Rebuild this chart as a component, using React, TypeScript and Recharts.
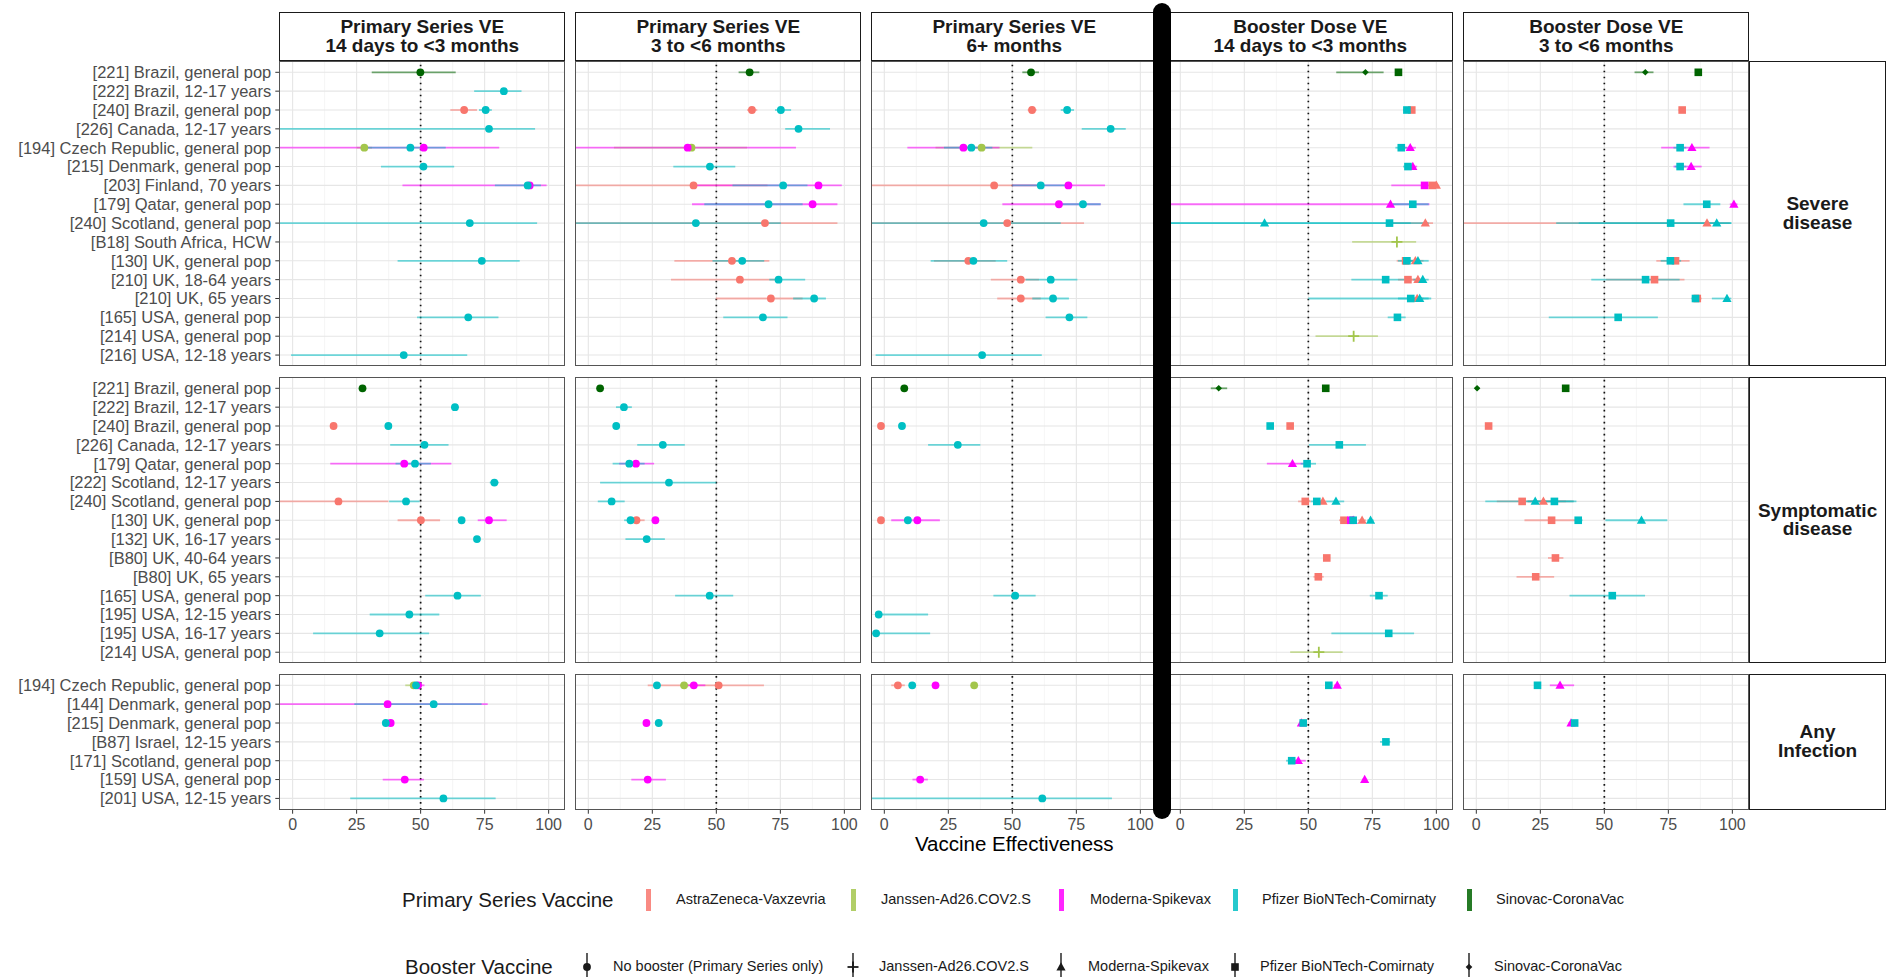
import React from "react";
import {
  CartesianGrid,
  ErrorBar,
  ReferenceLine,
  Scatter,
  ScatterChart,
  XAxis,
  YAxis,
} from "recharts";

// facet labels
const periodTitles = [
  "Primary Series VE",
  "Primary Series VE",
  "Primary Series VE",
  "Booster Dose VE",
  "Booster Dose VE",
];
const periodWindows = [
  "14 days to <3 months",
  "3 to <6 months",
  "6+ months",
  "14 days to <3 months",
  "3 to <6 months",
];
const outcomeTitles = [
  ["Severe", "disease"],
  ["Symptomatic", "disease"],
  ["Any", "Infection"],
];

const severeStudies = [
  "[221] Brazil, general pop",
  "[222] Brazil, 12-17 years",
  "[240] Brazil, general pop",
  "[226] Canada, 12-17 years",
  "[194] Czech Republic, general pop",
  "[215] Denmark, general pop",
  "[203] Finland, 70 years",
  "[179] Qatar, general pop",
  "[240] Scotland, general pop",
  "[B18] South Africa, HCW",
  "[130] UK, general pop",
  "[210] UK, 18-64 years",
  "[210] UK, 65 years",
  "[165] USA, general pop",
  "[214] USA, general pop",
  "[216] USA, 12-18 years",
];
const symptomaticStudies = [
  "[221] Brazil, general pop",
  "[222] Brazil, 12-17 years",
  "[240] Brazil, general pop",
  "[226] Canada, 12-17 years",
  "[179] Qatar, general pop",
  "[222] Scotland, 12-17 years",
  "[240] Scotland, general pop",
  "[130] UK, general pop",
  "[132] UK, 16-17  years",
  "[B80] UK, 40-64 years",
  "[B80] UK, 65 years",
  "[165] USA, general pop",
  "[195] USA, 12-15 years",
  "[195] USA, 16-17 years",
  "[214] USA, general pop",
];
const infectionStudies = [
  "[194] Czech Republic, general pop",
  "[144] Denmark, general pop",
  "[215] Denmark, general pop",
  "[B87] Israel, 12-15 years",
  "[171] Scotland, general pop",
  "[159] USA, general pop",
  "[201] USA, 12-15 years",
];

const xTicks = [0, 25, 50, 75, 100];
const xMinorTicks = [12.5, 37.5, 62.5, 87.5];
const xDomain: [number, number] = [-5.2, 106.5];

// A = AstraZeneca, J = Janssen, M = Moderna, P = Pfizer, S = Sinovac, "-" = no booster
const primaryCodes = ["A", "J", "M", "P", "S"];
const primaryLabels = [
  "AstraZeneca-Vaxzevria",
  "Janssen-Ad26.COV2.S",
  "Moderna-Spikevax",
  "Pfizer BioNTech-Comirnaty",
  "Sinovac-CoronaVac",
];
const boosterCodes = ["-", "J", "M", "P", "S"];
const boosterLabels = [
  "No booster (Primary Series only)",
  "Janssen-Ad26.COV2.S",
  "Moderna-Spikevax",
  "Pfizer BioNTech-Comirnaty",
  "Sinovac-CoronaVac",
];

// [period, study row, primary, booster, VE, lower, upper]
type Estimate = [number, number, string, string, number, number, number];

const severeEstimates: Estimate[] = [
  [0, 0, "S", "-", 49.9, 30.9, 63.7],
  [0, 1, "P", "-", 82.5, 70.9, 89.4],
  [0, 2, "A", "-", 67.0, 61.6, 72.0],
  [0, 2, "P", "-", 75.4, 72.8, 77.8],
  [0, 3, "P", "-", 76.7, -10, 94.7],
  [0, 4, "J", "-", 28.0, 25, 31],
  [0, 4, "P", "-", 46.0, 28.6, 59.8],
  [0, 4, "M", "-", 51.2, -10, 80.7],
  [0, 5, "P", "-", 51.1, 34.5, 63.1],
  [0, 6, "P", "-", 91.8, 79, 97],
  [0, 6, "M", "-", 92.6, 42.9, 99.2],
  [0, 8, "P", "-", 69.2, -10, 95.5],
  [0, 10, "P", "-", 73.9, 41.0, 88.7],
  [0, 13, "P", "-", 68.6, 48.6, 80.4],
  [0, 15, "P", "-", 43.4, -0.6, 68.2],

  [1, 0, "S", "-", 63.0, 58.7, 66.8],
  [1, 2, "A", "-", 63.9, 62, 66],
  [1, 2, "P", "-", 75.2, 72.9, 79.2],
  [1, 3, "P", "-", 82.1, 76.9, 94.4],
  [1, 4, "M", "-", 38.8, -10, 81.1],
  [1, 4, "J", "-", 40.3, 10, 62],
  [1, 5, "P", "-", 47.5, 33.2, 57.4],
  [1, 6, "A", "-", 41.1, -10, 70],
  [1, 6, "P", "-", 76.1, 56.3, 85.6],
  [1, 6, "M", "-", 89.9, 40, 99.0],
  [1, 7, "P", "-", 70.4, 45.3, 83.7],
  [1, 7, "M", "-", 87.6, 40.5, 97.3],
  [1, 8, "P", "-", 42.0, -10, 75.2],
  [1, 8, "A", "-", 69.0, -10, 97.3],
  [1, 10, "A", "-", 56.1, 33.6, 70.7],
  [1, 10, "P", "-", 60.1, 48.5, 68.7],
  [1, 11, "A", "-", 59.2, 32.3, 74.3],
  [1, 11, "P", "-", 74.3, 70.7, 84.7],
  [1, 12, "A", "-", 71.3, 49.8, 83.7],
  [1, 12, "P", "-", 88.2, 80.0, 92.8],
  [1, 13, "P", "-", 68.2, 52.7, 77.8],

  [2, 0, "S", "-", 57.3, 53.9, 60.4],
  [2, 2, "A", "-", 57.7, 56, 59.5],
  [2, 2, "P", "-", 71.4, 68.9, 74.1],
  [2, 3, "P", "-", 88.4, 77.1, 94.3],
  [2, 4, "M", "-", 30.9, 9.0, 45],
  [2, 4, "P", "-", 34.0, 23.3, 42.2],
  [2, 4, "J", "-", 38.0, 20, 57.8],
  [2, 6, "A", "-", 42.9, -10, 60],
  [2, 6, "P", "-", 61.1, 50, 72],
  [2, 6, "M", "-", 71.9, 50, 86.2],
  [2, 7, "M", "-", 68.2, 46.1, 84.5],
  [2, 7, "P", "-", 77.6, 68, 84.5],
  [2, 8, "P", "-", 38.8, -10, 68.9],
  [2, 8, "A", "-", 48.0, -10, 78.0],
  [2, 10, "A", "-", 32.8, 19.4, 43.5],
  [2, 10, "P", "-", 34.8, 18.1, 48.0],
  [2, 11, "A", "-", 53.3, 41.6, 60.4],
  [2, 11, "P", "-", 65.0, 55.2, 75.4],
  [2, 12, "A", "-", 53.3, 44.1, 61.1],
  [2, 12, "P", "-", 65.9, 57.8, 72.1],
  [2, 13, "P", "-", 72.3, 63.0, 79.3],
  [2, 15, "P", "-", 38.2, -3.4, 61.5],

  [3, 0, "S", "S", 72.3, 60.9, 79.4],
  [3, 0, "S", "P", 85.2, 84, 86.5],
  [3, 2, "P", "P", 88.5, 87, 90],
  [3, 2, "A", "P", 90.4, 89, 91.5],
  [3, 4, "P", "P", 86.3, 84, 88.5],
  [3, 4, "M", "M", 89.8, 87.5, 92],
  [3, 5, "P", "P", 88.9, 87, 90.5],
  [3, 5, "M", "M", 90.8, 89, 92.5],
  [3, 6, "M", "P", 95.4, 82.4, 99],
  [3, 6, "A", "P", 98.4, 97, 99.5],
  [3, 6, "A", "M", 100, 99, 101],
  [3, 7, "M", "M", 82.1, -10, 97.3],
  [3, 7, "P", "P", 90.8, 83, 97],
  [3, 8, "P", "M", 32.9, -10, 90],
  [3, 8, "P", "P", 81.7, -10, 97],
  [3, 8, "A", "M", 95.7, 82.3, 98.7],
  [3, 9, "J", "J", 84.6, 67.1, 92.1],
  [3, 10, "A", "P", 88.0, 84.5, 91],
  [3, 10, "P", "P", 88.5, 85, 92],
  [3, 10, "A", "M", 91.8, 88, 95],
  [3, 10, "P", "M", 92.8, 89, 97],
  [3, 11, "P", "P", 80.2, 66.8, 88],
  [3, 11, "A", "P", 88.9, 85, 92],
  [3, 11, "A", "M", 92.8, 90, 95],
  [3, 11, "P", "M", 94.7, 91, 97],
  [3, 12, "P", "P", 90, 50, 97],
  [3, 12, "A", "M", 92.5, 90, 95],
  [3, 12, "P", "M", 93.5, 85, 98],
  [3, 13, "P", "P", 84.8, 81, 88],
  [3, 14, "J", "J", 67.7, 52.8, 77.2],

  [4, 0, "S", "S", 66.0, 61.8, 69.2],
  [4, 0, "S", "P", 86.7, 85.5, 88],
  [4, 2, "A", "P", 80.4, 79, 81.5],
  [4, 4, "P", "P", 79.6, 77, 82],
  [4, 4, "M", "M", 84.2, 72.2, 91.1],
  [4, 5, "P", "P", 79.6, 77.5, 82],
  [4, 5, "M", "M", 83.9, 77, 88],
  [4, 7, "P", "P", 90.0, 80.9, 95.3],
  [4, 7, "M", "M", 100.6, 99, 102],
  [4, 8, "P", "P", 75.9, 31.2, 99.6],
  [4, 8, "A", "M", 90.1, -10, 99],
  [4, 8, "P", "M", 93.9, 40, 99.6],
  [4, 10, "P", "P", 75.8, 72, 80],
  [4, 10, "A", "P", 77.8, 70.3, 83.3],
  [4, 11, "P", "P", 66.1, 44.9, 79.4],
  [4, 11, "A", "P", 69.6, 50.7, 81.3],
  [4, 12, "P", "P", 85.6, 84, 87.5],
  [4, 12, "A", "P", 86.3, 85, 88],
  [4, 12, "P", "M", 97.9, 92, 99.6],
  [4, 13, "P", "P", 55.4, 28.3, 70.9],
];

const symptomaticEstimates: Estimate[] = [
  [0, 0, "S", "-", 27.3, 26, 28.5],
  [0, 1, "P", "-", 63.4, 62, 65],
  [0, 2, "A", "-", 16.0, 15, 17],
  [0, 2, "P", "-", 37.4, 36, 38.5],
  [0, 3, "P", "-", 51.5, 38.1, 60.9],
  [0, 4, "M", "-", 43.6, 14.7, 62.0],
  [0, 4, "P", "-", 47.8, 40.2, 54],
  [0, 5, "P", "-", 78.8, 77, 80.5],
  [0, 6, "A", "-", 17.9, -10, 37.4],
  [0, 6, "P", "-", 44.3, 37.7, 49.6],
  [0, 7, "A", "-", 50.1, 41.0, 57.6],
  [0, 7, "P", "-", 66.0, 65, 67],
  [0, 7, "M", "-", 76.7, 72.3, 83.6],
  [0, 8, "P", "-", 72.0, 71, 73],
  [0, 11, "P", "-", 64.4, 51.8, 73.5],
  [0, 12, "P", "-", 45.6, 30.1, 57.3],
  [0, 13, "P", "-", 34.0, 8.0, 53.3],

  [1, 0, "S", "-", 4.6, 4, 5.2],
  [1, 1, "P", "-", 13.9, 10.8, 17.0],
  [1, 2, "P", "-", 10.9, 10, 12],
  [1, 3, "P", "-", 29.1, 19.1, 37.7],
  [1, 4, "P", "-", 16.0, 9.5, 22],
  [1, 4, "M", "-", 18.6, 12, 25.7],
  [1, 5, "P", "-", 31.5, 4.6, 50],
  [1, 6, "P", "-", 9.1, 3.7, 14.2],
  [1, 7, "P", "-", 16.5, 14, 19],
  [1, 7, "A", "-", 18.8, 16, 22],
  [1, 7, "M", "-", 26.2, 25, 27.5],
  [1, 8, "P", "-", 22.8, 14.5, 29.9],
  [1, 11, "P", "-", 47.4, 33.9, 56.6],

  [2, 0, "S", "-", 7.8, 7, 8.6],
  [2, 2, "A", "-", -1.3, -2, -0.5],
  [2, 2, "P", "-", 6.9, 6, 7.8],
  [2, 3, "P", "-", 28.7, 17.1, 37.5],
  [2, 7, "A", "-", -1.3, -2, -0.5],
  [2, 7, "P", "-", 9.2, 8, 10.5],
  [2, 7, "M", "-", 12.9, 2.7, 21.7],
  [2, 11, "P", "-", 51.1, 42.6, 59.1],
  [2, 12, "P", "-", -2.2, -3, 17.1],
  [2, 13, "P", "-", -3.2, -4, 17.9],

  [3, 0, "S", "S", 15.0, 11.9, 18.3],
  [3, 0, "S", "P", 56.8, 56, 57.6],
  [3, 2, "P", "P", 35.1, 34, 36],
  [3, 2, "A", "P", 42.9, 42, 44],
  [3, 3, "P", "P", 62.1, 50.2, 72.5],
  [3, 4, "M", "M", 43.8, 33.8, 50.2],
  [3, 4, "P", "P", 49.5, 47, 53],
  [3, 6, "A", "P", 48.8, 46, 51],
  [3, 6, "P", "P", 53.3, 51, 55],
  [3, 6, "A", "M", 55.7, 54, 57],
  [3, 6, "P", "M", 60.8, 57, 64],
  [3, 7, "A", "P", 63.9, 62, 65.5],
  [3, 7, "M", "P", 66.6, 65, 68],
  [3, 7, "P", "P", 67.5, 66, 69],
  [3, 7, "M", "M", 67.5, 66, 69],
  [3, 7, "A", "M", 71.0, 69.5, 72.5],
  [3, 7, "P", "M", 74.3, 73, 75.5],
  [3, 9, "A", "P", 57.2, 56, 58.5],
  [3, 10, "A", "P", 53.9, 52, 56],
  [3, 11, "P", "P", 77.6, 74, 81],
  [3, 13, "P", "P", 81.4, 59, 91.3],
  [3, 14, "J", "J", 54.1, 42.9, 63.4],

  [4, 0, "S", "S", 0.3, -0.5, 1.2],
  [4, 0, "S", "P", 34.9, 34, 35.8],
  [4, 2, "A", "P", 4.8, 3.8, 5.8],
  [4, 6, "A", "P", 17.9, 8, 38],
  [4, 6, "P", "M", 23.0, 3.5, 39.1],
  [4, 6, "A", "M", 26.2, 20, 35],
  [4, 6, "P", "P", 30.5, 20, 38],
  [4, 7, "A", "P", 29.4, 18.8, 40.4],
  [4, 7, "P", "P", 39.8, 38.5, 41.5],
  [4, 7, "P", "M", 64.5, 50.4, 74.6],
  [4, 9, "A", "P", 30.9, 28, 34],
  [4, 10, "A", "P", 23.2, 15.7, 30.4],
  [4, 11, "P", "P", 53.1, 36.4, 65.9],
];

const infectionEstimates: Estimate[] = [
  [0, 0, "J", "-", 47.3, 44, 50],
  [0, 0, "P", "-", 48.2, 46, 50.5],
  [0, 0, "M", "-", 49.0, 46.5, 51.5],
  [0, 1, "M", "-", 37.1, -10, 76.2],
  [0, 1, "P", "-", 55.1, 24.1, 73.8],
  [0, 2, "P", "-", 36.4, 35.5, 37.5],
  [0, 2, "M", "-", 38.3, 37, 39.5],
  [0, 5, "M", "-", 43.8, 35.2, 51.3],
  [0, 6, "P", "-", 58.9, 22.5, 79.3],

  [1, 0, "P", "-", 26.8, 26, 27.6],
  [1, 0, "J", "-", 37.4, 36, 39],
  [1, 0, "M", "-", 41.2, 37.4, 45.7],
  [1, 0, "A", "-", 50.9, 23.2, 68.6],
  [1, 2, "M", "-", 22.7, 22, 23.5],
  [1, 2, "P", "-", 27.5, 26.7, 28.3],
  [1, 5, "M", "-", 23.2, 16.8, 30.3],

  [2, 0, "A", "-", 5.3, 2.7, 8.0],
  [2, 0, "P", "-", 10.9, 10, 12],
  [2, 0, "M", "-", 20.0, 19, 21],
  [2, 0, "J", "-", 35.1, 34, 36.2],
  [2, 5, "M", "-", 14.0, 11, 17],
  [2, 6, "P", "-", 61.7, -10, 88.9],

  [3, 0, "P", "P", 58.0, 57, 59],
  [3, 0, "M", "M", 61.3, 60, 62.5],
  [3, 2, "P", "P", 48.0, 47, 49],
  [3, 2, "M", "M", 47.3, 46.5, 48.5],
  [3, 3, "P", "P", 80.3, 78, 82],
  [3, 4, "P", "P", 43.5, 41.3, 46.4],
  [3, 4, "M", "M", 46.1, 43.5, 49],
  [3, 5, "M", "M", 72.0, 71, 73],

  [4, 0, "P", "P", 23.9, 23, 25],
  [4, 0, "M", "M", 32.7, 28.7, 38.2],
  [4, 2, "P", "P", 38.4, 37.5, 39.3],
  [4, 2, "M", "M", 37.0, 36, 38],
];

const outcomeStudies = [severeStudies, symptomaticStudies, infectionStudies];
const outcomeEstimates = [severeEstimates, symptomaticEstimates, infectionEstimates];

// styles / layout
const vaccineColors: Record<string, string> = {
  A: "#F8766D",
  J: "#A3C64C",
  M: "#FF00FF",
  P: "#00BFC4",
  S: "#006400",
};
const font = "Arial, 'Liberation Sans', Helvetica, sans-serif";
const textGray = "#4D4D4D";
const panelWidth = 286;
const colLefts = periodTitles.map((_, i) => 279.3 + i * 296);
const rowStep = 18.85;
const rowHeights = outcomeStudies.map((s) => (s.length + 0.2) * rowStep);
const rowGap = 10.5;
const stripTop = 12;
const stripHeight = 49;
const rowTops = rowHeights.map((_, i) =>
  rowHeights.slice(0, i).reduce((acc, h) => acc + h + rowGap, stripTop + stripHeight),
);
const rightStripLeft = colLefts[4] + panelWidth;
const rightStripWidth = 136.5;

const clampValue = (value: number) => Math.max(xDomain[0], Math.min(xDomain[1], value));

const toPoint = (e: Estimate) => ({
  x: e[4],
  y: e[1],
  primary: e[2],
  booster: e[3],
  err: [e[4] - clampValue(e[5]), clampValue(e[6]) - e[4]],
});

const toPixel = (value: number, offset: { left: number; width: number }) =>
  offset.left + ((value - xDomain[0]) / (xDomain[1] - xDomain[0])) * offset.width;

const BoosterSymbol = ({
  kind,
  cx,
  cy,
  color,
}: {
  kind: string;
  cx: number;
  cy: number;
  color: string;
}) => {
  if (kind === "J") {
    return (
      <g stroke={color} strokeWidth={1.8}>
        <line x1={cx - 5.5} x2={cx + 5.5} y1={cy} y2={cy} />
        <line x1={cx} x2={cx} y1={cy - 5.5} y2={cy + 5.5} />
      </g>
    );
  }
  if (kind === "M") {
    return (
      <polygon
        points={`${cx},${cy - 4.8} ${cx - 4.6},${cy + 3.4} ${cx + 4.6},${cy + 3.4}`}
        fill={color}
      />
    );
  }
  if (kind === "P") {
    return <rect x={cx - 3.8} y={cy - 3.8} width={7.6} height={7.6} fill={color} />;
  }
  if (kind === "S") {
    return (
      <polygon
        points={`${cx},${cy - 3.3} ${cx + 3.3},${cy} ${cx},${cy + 3.3} ${cx - 3.3},${cy}`}
        fill={color}
      />
    );
  }
  return <circle cx={cx} cy={cy} r={3.9} fill={color} />;
};

const renderPoint = (props: any) => {
  const { cx, cy, payload } = props;
  if (cx == null || cy == null || !payload) return <g />;
  return (
    <BoosterSymbol kind={payload.booster} cx={cx} cy={cy} color={vaccineColors[payload.primary]} />
  );
};

const noShape = () => <g />;

const Panel = ({ outcome, period }: { outcome: number; period: number }) => {
  const studies = outcomeStudies[outcome];
  const n = studies.length;
  const firstCol = period === 0;
  const lastRow = outcome === outcomeStudies.length - 1;
  const yAxisWidth = firstCol ? colLefts[0] : 0;
  const xAxisHeight = lastRow ? 34 : 0;
  const plotHeight = rowHeights[outcome];
  const points = outcomeEstimates[outcome].filter((e) => e[0] === period).map(toPoint);

  const rowCoordinates = ({ offset }: { offset: { top: number; height: number } }) =>
    studies.map((_, i) => offset.top + ((i + 0.6) / (n + 0.2)) * offset.height);

  return (
    <div
      style={{
        position: "absolute",
        left: colLefts[period] - yAxisWidth,
        top: rowTops[outcome],
      }}
    >
      <ScatterChart
        width={panelWidth + yAxisWidth}
        height={plotHeight + xAxisHeight}
        margin={{ top: 0, right: 0, bottom: 0, left: 0 }}
      >
        <CartesianGrid
          horizontal={false}
          verticalCoordinatesGenerator={({ offset }: any) =>
            xMinorTicks.map((v) => toPixel(v, offset))
          }
          stroke="#F2F2F2"
          strokeWidth={0.8}
        />
        <CartesianGrid
          verticalCoordinatesGenerator={({ offset }: any) => xTicks.map((v) => toPixel(v, offset))}
          horizontalCoordinatesGenerator={rowCoordinates as any}
          stroke="#E6E6E6"
          strokeWidth={1.1}
        />
        <XAxis
          type="number"
          dataKey="x"
          domain={xDomain}
          ticks={xTicks}
          interval={0}
          allowDataOverflow
          hide={!lastRow}
          height={xAxisHeight}
          axisLine={false}
          tickLine={{ stroke: "#333333" }}
          tickSize={4}
          tickMargin={5}
          tick={{ fill: textGray, fontSize: 16, fontFamily: font }}
        />
        <YAxis
          type="number"
          dataKey="y"
          domain={[-0.6, n - 0.4]}
          ticks={studies.map((_, i) => i)}
          tickFormatter={(v: number) => studies[v] ?? ""}
          interval={0}
          reversed
          allowDataOverflow
          hide={!firstCol}
          width={yAxisWidth}
          axisLine={false}
          tickLine={{ stroke: "#333333" }}
          tickSize={4}
          tickMargin={4}
          tick={{ fill: textGray, fontSize: 16.5, fontFamily: font }}
        />
        <ReferenceLine
          x={50}
          stroke="#111111"
          strokeWidth={1.7}
          strokeDasharray="1.7 4.3"
        />
        {primaryCodes.map((code) => (
          <Scatter
            key={`ci-${code}`}
            data={points.filter((p) => p.primary === code)}
            shape={noShape}
            isAnimationActive={false}
          >
            <ErrorBar
              dataKey="err"
              direction="x"
              width={0}
              stroke={vaccineColors[code]}
              strokeWidth={1.8}
              strokeOpacity={0.55}
              isAnimationActive={false}
            />
          </Scatter>
        ))}
        {primaryCodes.map((code) => (
          <Scatter
            key={`pt-${code}`}
            data={points.filter((p) => p.primary === code)}
            shape={renderPoint}
            isAnimationActive={false}
          />
        ))}
      </ScatterChart>
      <div
        style={{
          position: "absolute",
          left: yAxisWidth,
          top: 0,
          width: panelWidth,
          height: plotHeight,
          border: "1.3px solid #555555",
          boxSizing: "border-box",
          pointerEvents: "none",
        }}
      />
    </div>
  );
};

const stripStyle: React.CSSProperties = {
  position: "absolute",
  boxSizing: "border-box",
  border: "1.3px solid #1A1A1A",
  background: "#FFFFFF",
  display: "flex",
  flexDirection: "column",
  alignItems: "center",
  justifyContent: "center",
  fontWeight: "bold",
  fontSize: 19,
  lineHeight: "18.5px",
  color: "#1A1A1A",
  textAlign: "center",
};

const legendRowPrimaryY = 900;
const legendRowBoosterY = 967;
const primaryKeyX = [648, 853, 1061, 1235, 1469];
const primaryTextX = [676, 881, 1090, 1262, 1496];
const boosterKeyX = [587, 853, 1061, 1235, 1469];
const boosterTextX = [613, 879, 1088, 1260, 1494];

const LegendText = ({ x, y, size, children }: { x: number; y: number; size: number; children: React.ReactNode }) => (
  <div
    style={{
      position: "absolute",
      left: x,
      top: y - size * 0.6,
      height: size * 1.2,
      lineHeight: `${size * 1.2}px`,
      fontSize: size,
      color: "#1A1A1A",
      whiteSpace: "nowrap",
    }}
  >
    {children}
  </div>
);

const Legends = () => (
  <>
    <LegendText x={402} y={legendRowPrimaryY} size={20.5}>
      Primary Series Vaccine
    </LegendText>
    {primaryCodes.map((code, i) => (
      <React.Fragment key={`pl-${code}`}>
        <div
          style={{
            position: "absolute",
            left: primaryKeyX[i] - 2.5,
            top: legendRowPrimaryY - 11,
            width: 5,
            height: 22,
            background: vaccineColors[code],
            opacity: 0.85,
          }}
        />
        <LegendText x={primaryTextX[i]} y={legendRowPrimaryY} size={14.5}>
          {primaryLabels[i]}
        </LegendText>
      </React.Fragment>
    ))}
    <LegendText x={405} y={legendRowBoosterY} size={20.5}>
      Booster Vaccine
    </LegendText>
    {boosterCodes.map((code, i) => (
      <React.Fragment key={`bl-${code}`}>
        <svg
          width={16}
          height={28}
          style={{ position: "absolute", left: boosterKeyX[i] - 8, top: legendRowBoosterY - 14 }}
        >
          <line x1={8} x2={8} y1={0} y2={28} stroke="#1A1A1A" strokeWidth={1.4} />
          <BoosterSymbol kind={code} cx={8} cy={14} color="#1A1A1A" />
        </svg>
        <LegendText x={boosterTextX[i]} y={legendRowBoosterY} size={14.5}>
          {boosterLabels[i]}
        </LegendText>
      </React.Fragment>
    ))}
  </>
);

const App = () => {
  const bottom = rowTops[2] + rowHeights[2];
  return (
    <div
      style={{
        position: "absolute",
        left: 0,
        top: 0,
        width: 1892,
        height: 977,
        overflow: "hidden",
        background: "#FFFFFF",
        fontFamily: font,
      }}
    >
      {periodTitles.map((title, p) => (
        <div
          key={`strip-${p}`}
          style={{ ...stripStyle, left: colLefts[p], top: stripTop, width: panelWidth, height: stripHeight }}
        >
          <div>{title}</div>
          <div>{periodWindows[p]}</div>
        </div>
      ))}
      {outcomeTitles.map((lines, o) => (
        <div
          key={`rstrip-${o}`}
          style={{
            ...stripStyle,
            left: rightStripLeft,
            top: rowTops[o],
            width: rightStripWidth,
            height: rowHeights[o],
          }}
        >
          <div>{lines[0]}</div>
          <div>{lines[1]}</div>
        </div>
      ))}
      {outcomeStudies.map((_, o) =>
        periodTitles.map((__, p) => <Panel key={`panel-${o}-${p}`} outcome={o} period={p} />),
      )}
      <div
        style={{
          position: "absolute",
          left: colLefts[0],
          width: rightStripLeft - colLefts[0],
          top: bottom + 23,
          textAlign: "center",
          fontSize: 20.5,
          lineHeight: "21px",
          color: "#000000",
        }}
      >
        Vaccine Effectiveness
      </div>
      <Legends />
      <div
        style={{
          position: "absolute",
          left: 1153,
          top: 3,
          width: 18,
          height: 816,
          background: "#000000",
          borderRadius: 9,
        }}
      />
    </div>
  );
};

export default App;
